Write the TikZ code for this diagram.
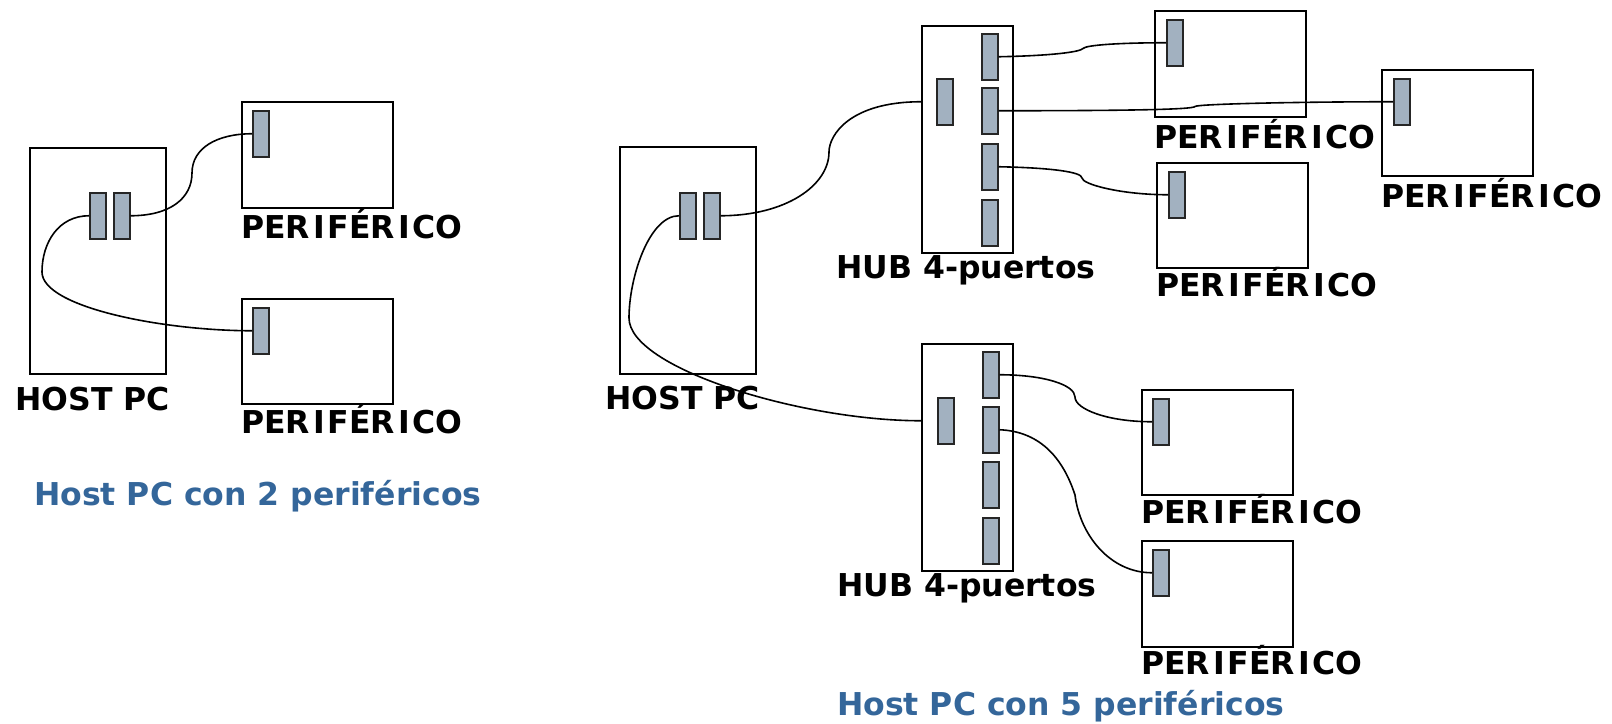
\documentclass[tikz,border=0pt]{standalone}
\usepackage{fontspec}
\setmainfont{DejaVu Sans}
\definecolor{portfill}{RGB}{162,177,192}
\definecolor{capblue}{RGB}{52,102,154}
\newcommand\PerI{\kern3pt I\kern3pt}
\newcommand\Peri{PER\PerI F\'ER\PerI CO}
\tikzset{
  box/.style={draw=black, line width=1.8pt, inner sep=0pt, anchor=north west},
  port/.style={draw=black!85, fill=portfill, line width=1.5pt, inner sep=0pt, anchor=north west, minimum width=16pt, minimum height=46pt},
  cable/.style={line width=1.6pt},
  lbl/.style={inner sep=0pt, anchor=base west, font=\fontsize{31.5}{36}\selectfont\bfseries},
  captxt/.style={lbl, text=capblue}
}
\begin{document}
\begin{tikzpicture}[x=1pt,y=-1pt]
\useasboundingbox (0,0) rectangle (1612,723);
% ---------- left diagram ----------
\node[box, minimum width=136pt, minimum height=226pt] (hL) at (29,147) {};
\node[box, minimum width=151pt, minimum height=106pt] (pL1) at (241,101) {};
\node[box, minimum width=151pt, minimum height=105pt] (pL2) at (241,298) {};
\node[lbl] (hLt) at (15,410) {HOST PC};
\node[lbl] (pL1t) at (241,238) {\Peri};
\node[lbl] (pL2t) at (241,433) {\Peri};
\node[captxt] (capL) at (34,505) {Host PC con 2 periféricos};
% ---------- right diagram ----------
\node[box, minimum width=136pt, minimum height=227pt] (hR) at (619,146) {};
\node[box, minimum width=91pt, minimum height=227pt] (h1) at (921,25) {};
\node[box, minimum width=91pt, minimum height=227pt] (h2) at (921,343) {};
\node[box, minimum width=151pt, minimum height=106pt] (pA) at (1154,10) {};
\node[box, minimum width=151pt, minimum height=106pt] (pB) at (1381,69) {};
\node[box, minimum width=151pt, minimum height=105pt] (pC) at (1156,162) {};
\node[box, minimum width=151pt, minimum height=105pt] (pD) at (1141,389) {};
\node[box, minimum width=151pt, minimum height=106pt] (pE) at (1141,540) {};
\node[lbl] (hRt) at (605,409) {HOST PC};
\node[lbl] (h1t) at (836,278) {HUB 4-puertos};
\node[lbl] (h2t) at (837,596) {HUB 4-puertos};
\node[lbl] (pAt) at (1154,148) {\Peri};
\node[lbl] (pBt) at (1381,207) {\Peri};
\node[lbl] (pCt) at (1156,296) {\Peri};
\node[lbl] (pDt) at (1141,523) {\Peri};
\node[lbl] (pEt) at (1141,674) {\Peri};
\node[captxt] (capR) at (837,715) {Host PC con 5 periféricos};
% ---------- ports ----------
\node[port] (hLp1) at (89,192) {};
\node[port] (hLp2) at (113,192) {};
\node[port] (pL1p) at (252,110) {};
\node[port] (pL2p) at (252,307) {};
\node[port] (hRp1) at (679,192) {};
\node[port] (hRp2) at (703,192) {};
\node[port] (h1i) at (936,78) {};
\node[port] (h1p1) at (981,33) {};
\node[port] (h1p2) at (981,87) {};
\node[port] (h1p3) at (981,143) {};
\node[port] (h1p4) at (981,199) {};
\node[port] (h2i) at (937,397) {};
\node[port] (h2p1) at (982,351) {};
\node[port] (h2p2) at (982,406) {};
\node[port] (h2p3) at (982,461) {};
\node[port] (h2p4) at (982,517) {};
\node[port] (pAp) at (1166,19) {};
\node[port] (pBp) at (1393,78) {};
\node[port] (pCp) at (1168,171) {};
\node[port] (pDp) at (1152,398) {};
\node[port] (pEp) at (1152,549) {};
% ---------- cable bends ----------
\coordinate (mA) at (192,173);
\coordinate (mB) at (42,272);
\coordinate (mC) at (829,152);
\coordinate (mD) at (629,318);
\coordinate (mE) at (1083,48.5);
\coordinate (mF) at (1195,106.5);
\coordinate (mG) at (1082,178);
\coordinate (mH) at (1075,397);
\coordinate (mI) at (1075,495);
% ---------- cables ----------
\draw[cable] (hLp2.east) .. controls +(40,0) and +(0,25) .. (mA)
  .. controls +(0,-25) and +(-35,0) .. (pL1p.west);
\draw[cable] (hLp1.west) .. controls +(-30,0) and +(0,-30) .. (mB)
  .. controls +(0,35) and +(-90,0) .. (pL2p.west);
\draw[cable] (hRp2.east) .. controls +(66,0) and +(0,33) .. (mC)
  .. controls +(0,-17) and +(-71,0) .. (h1.west |- h1i.center);
\draw[cable] (hRp1.west) .. controls +(-30,0) and +(0,-40) .. (mD)
  .. controls +(0,50) and +(-120,0) .. (h2.west |- h2i.center);
\draw[cable] (h1p1.east) .. controls +(53,-1) and +(-3,3.5) .. (mE)
  .. controls +(3,-3.5) and +(-46,0) .. (pAp.west);
\draw[cable] (h1p2.east) .. controls +(153,0) and +(-2,2.5) .. (mF)
  .. controls +(2,-2.5) and +(-93,0) .. (pBp.west);
\draw[cable] (h1p3.east) .. controls +(53,1) and +(0,-6) .. (mG)
  .. controls +(0,6) and +(-48,0) .. (pCp.west);
\draw[cable] (h2p1.east) .. controls +(45,0) and +(0,-12) .. (mH)
  .. controls +(0,12) and +(-45,0) .. (pDp.west);
\draw[cable] (h2p2.east) .. controls +(38,1.5) and +(-13,-40) .. (mI)
  .. controls +(5,40) and +(-42,0) .. (pEp.west);
\end{tikzpicture}
\end{document}
